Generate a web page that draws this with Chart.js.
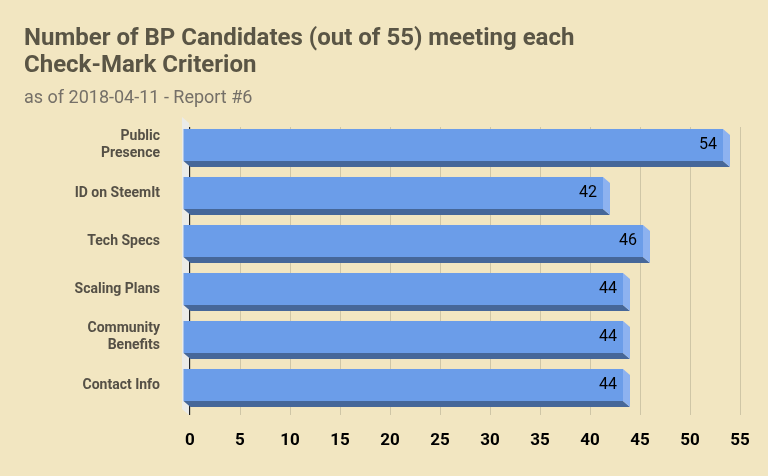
<!DOCTYPE html>
<html>
<head>
<meta charset="utf-8">
<script src="https://cdn.jsdelivr.net/npm/chart.js@4"></script>
<style>
  body { margin: 0; background: #f2e6c1; }
  #wrap { width: 768px; height: 476px; }
</style>
</head>
<body>
<div id="wrap"><canvas id="chart"></canvas></div>
<script>
const categories = [['Public', 'Presence'], 'ID on SteemIt', 'Tech Specs', 'Scaling Plans', ['Community', 'Benefits'], 'Contact Info'];
const counts = [54, 42, 46, 44, 44, 44];
const xTicks = [0, 5, 10, 15, 20, 25, 30, 35, 40, 45, 50, 55];

const DX = 7, DY = 6; // 3D depth

// title, left wall, 3D bars and value labels
const drawing = {
  id: 'drawing',
  beforeDatasetsDraw(chart) {
    const ctx = chart.ctx, a = chart.chartArea;
    ctx.save();
    ctx.fillStyle = '#ebebe8';
    ctx.beginPath();
    ctx.moveTo(a.left - DX - 1, a.top - 10);
    ctx.lineTo(a.left - 1, a.top - 10 + DY);
    ctx.lineTo(a.left - 1, a.bottom);
    ctx.lineTo(a.left - DX - 1, a.bottom - DY);
    ctx.closePath();
    ctx.fill();
    ctx.strokeStyle = '#222';
    ctx.lineWidth = 1;
    ctx.beginPath();
    ctx.moveTo(a.left - 0.5, a.top);
    ctx.lineTo(a.left - 0.5, a.bottom);
    ctx.stroke();
    ctx.restore();
  },
  afterDatasetsDraw(chart) {
    const ctx = chart.ctx;
    const meta = chart.getDatasetMeta(0);
    ctx.save();
    meta.data.forEach((bar, i) => {
      const x0 = bar.base, x1 = bar.x;
      const top = bar.y - bar.height / 2, bot = bar.y + bar.height / 2;
      // bottom face
      ctx.fillStyle = '#466799';
      ctx.beginPath();
      ctx.moveTo(x0 - DX, bot - DY);
      ctx.lineTo(x1 - DX, bot - DY);
      ctx.lineTo(x1, bot);
      ctx.lineTo(x0, bot);
      ctx.closePath();
      ctx.fill();
      // right face
      ctx.fillStyle = '#8db2f0';
      ctx.beginPath();
      ctx.moveTo(x1 - DX, top - DY);
      ctx.lineTo(x1, top);
      ctx.lineTo(x1, bot);
      ctx.lineTo(x1 - DX, bot - DY);
      ctx.closePath();
      ctx.fill();
      // front face
      ctx.fillStyle = '#6b9de9';
      ctx.fillRect(x0 - DX, top - DY, x1 - x0, bot - top);
      ctx.fillStyle = '#000';
      ctx.font = '16px Roboto';
      ctx.textAlign = 'right';
      ctx.textBaseline = 'middle';
      ctx.fillText(counts[i], x1 - DX - 6, bar.y - DY);
    });
    ctx.restore();
  },
  afterDraw(chart) {
    const ctx = chart.ctx;
    ctx.save();
    ctx.fillStyle = '#5a5545';
    ctx.font = 'bold 24px Roboto';
    ctx.textBaseline = 'alphabetic';
    ctx.fillText('Number of BP Candidates (out of 55) meeting each', 24, 45);
    ctx.fillText('Check-Mark Criterion', 24, 72);
    ctx.fillStyle = '#757068';
    ctx.font = '18px Roboto';
    ctx.fillText('as of 2018-04-11 - Report #6', 24, 103);
    ctx.restore();
  }
};

new Chart(document.getElementById('chart'), {
  type: 'bar',
  data: {
    labels: categories,
    datasets: [{
      data: counts,
      backgroundColor: 'rgba(0,0,0,0)',
      barPercentage: 0.667,
      categoryPercentage: 1
    }]
  },
  options: {
    indexAxis: 'y',
    responsive: true,
    maintainAspectRatio: false,
    animation: false,
    layout: { padding: { top: 127, right: 28, left: 0, bottom: 0 } },
    plugins: { legend: { display: false }, tooltip: { enabled: false } },
    scales: {
      x: {
        min: 0,
        max: 55,
        afterBuildTicks: axis => { axis.ticks = xTicks.map(v => ({ value: v })); },
        grid: { color: '#cfc6a6', drawTicks: false },
        border: { display: false },
        ticks: { color: '#000', font: { family: 'Roboto', size: 17, weight: 'bold' }, padding: 16 },
        afterFit: axis => { axis.height = 61; }
      },
      y: {
        grid: { display: false },
        border: { display: false },
        ticks: {
          color: '#555046',
          font: { family: 'Roboto', size: 14, weight: 'bold' },
          padding: 22,
          labelOffset: -6
        },
        afterFit: axis => { axis.width = 190; }
      }
    }
  },
  plugins: [drawing]
});
</script>
</body>
</html>
